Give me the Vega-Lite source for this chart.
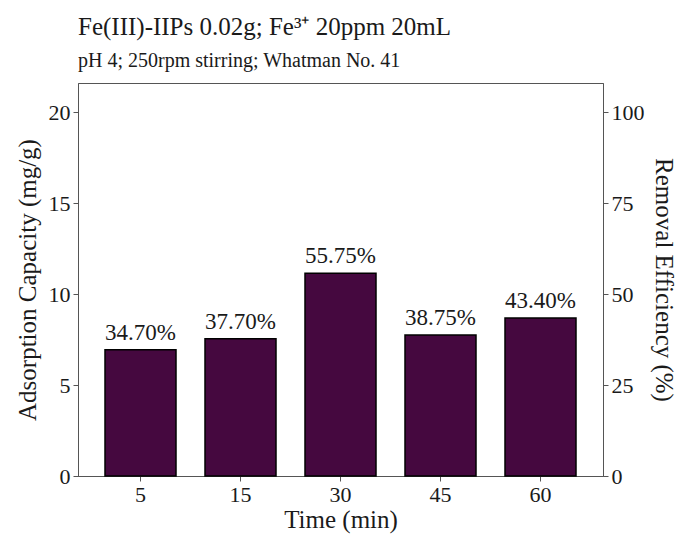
{
  "$schema": "https://vega.github.io/schema/vega-lite/v6.json",
  "width": 525,
  "height": 393,
  "autosize": "none",
  "padding": {"left": 78, "top": 83, "right": 75, "bottom": 59},
  "config": {
    "font": "Liberation Serif",
    "view": {"stroke": "#555555", "strokeWidth": 1},
    "axis": {
      "grid": false,
      "domainColor": "#555555",
      "tickColor": "#555555",
      "tickSize": 5,
      "labelFontSize": 22,
      "labelColor": "#1a1a1a",
      "labelFont": "Liberation Serif",
      "titleFont": "Liberation Serif",
      "titleFontSize": 25,
      "titleFontWeight": "normal",
      "titleColor": "#1a1a1a",
      "labelPadding": 3
    }
  },
  "title": {
    "text": "Fe(III)-IIPs 0.02g; Fe³⁺ 20ppm 20mL",
    "subtitle": "pH 4; 250rpm stirring; Whatman No. 41",
    "anchor": "start",
    "frame": "group",
    "font": "Liberation Serif",
    "subtitleFont": "Liberation Serif",
    "fontSize": 25,
    "fontWeight": "normal",
    "subtitleFontSize": 20,
    "color": "#1a1a1a",
    "subtitleColor": "#1a1a1a",
    "offset": 12,
    "subtitlePadding": 11
  },
  "data": {
    "values": [
      {"Time": 5, "Capacity": 6.94, "Removal": 34.70, "Label": "34.70%"},
      {"Time": 15, "Capacity": 7.54, "Removal": 37.70, "Label": "37.70%"},
      {"Time": 30, "Capacity": 11.15, "Removal": 55.75, "Label": "55.75%"},
      {"Time": 45, "Capacity": 7.75, "Removal": 38.75, "Label": "38.75%"},
      {"Time": 60, "Capacity": 8.68, "Removal": 43.40, "Label": "43.40%"}
    ]
  },
  "encoding": {
    "x": {
      "field": "Time",
      "type": "ordinal",
      "sort": [5, 15, 30, 45, 60],
      "scale": {"paddingInner": 0.29, "paddingOuter": 0.27},
      "axis": {"title": "Time (min)", "labelAngle": 0, "titlePadding": 2}
    }
  },
  "layer": [
    {
      "mark": {"type": "bar", "color": "#45083f", "stroke": "#000000", "strokeWidth": 1.5},
      "encoding": {
        "y": {
          "field": "Capacity",
          "type": "quantitative",
          "scale": {"domain": [0, 21.6], "nice": false},
          "axis": {"title": "Adsorption Capacity (mg/g)", "values": [0, 5, 10, 15, 20], "titlePadding": 8}
        }
      }
    },
    {
      "mark": {"type": "text", "dy": -10, "baseline": "alphabetic", "fontSize": 23, "color": "#1a1a1a", "font": "Liberation Serif"},
      "encoding": {
        "y": {
          "field": "Removal",
          "type": "quantitative",
          "scale": {"domain": [0, 108], "nice": false},
          "axis": {"orient": "right", "title": "Removal Efficiency (%)", "values": [0, 25, 50, 75, 100], "titlePadding": 6}
        },
        "text": {"field": "Label"}
      }
    }
  ],
  "resolve": {"scale": {"y": "independent"}}
}
